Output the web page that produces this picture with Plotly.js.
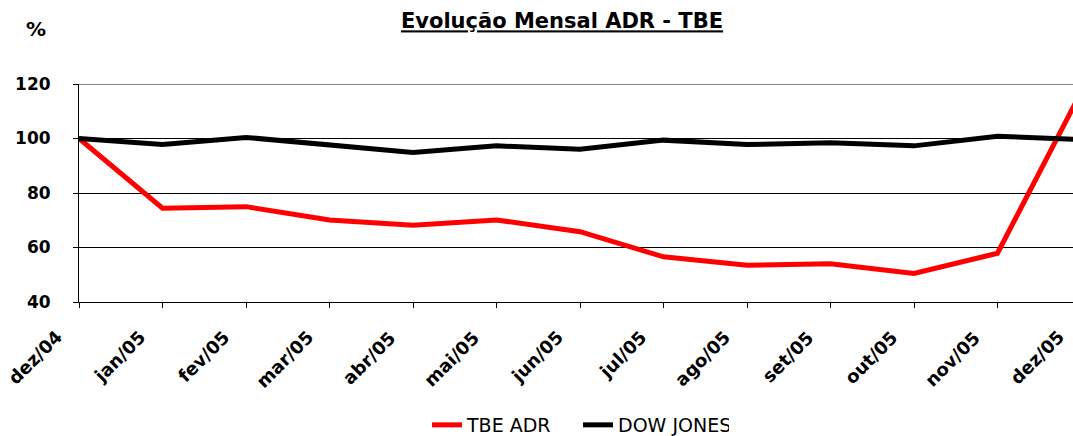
<!DOCTYPE html>
<html>
<head>
<meta charset="utf-8">
<script src="https://cdn.plot.ly/plotly-3.0.1.min.js"></script>
<style>
html,body{margin:0;padding:0;overflow:hidden;background:#fff;width:1073px;height:436px;}
#chart{width:1100px;height:436px;}
</style>
</head>
<body>
<div id="chart"></div>
<script>
const months = ["dez/04","jan/05","fev/05","mar/05","abr/05","mai/05","jun/05","jul/05","ago/05","set/05","out/05","nov/05","dez/05"];
const tbeAdr = [100, 74.4, 75.0, 70.1, 68.2, 70.1, 65.8, 56.6, 53.5, 54.0, 50.5, 57.9, 117];
const dowJones = [100, 97.8, 100.4, 97.8, 94.9, 97.3, 96.1, 99.4, 97.8, 98.4, 97.3, 100.8, 99.6];
const yTicks = [40, 60, 80, 100, 120];

const W = 1100, H = 436;
const L = 79, T = 84, B = 134, R = 19;
const plotW = W - L - R;
const plotH = H - T - B;

const traces = [
  {x: months, y: tbeAdr, name: "TBE ADR", type: "scatter", mode: "lines",
   line: {color: "#ff0000", width: 5}},
  {x: months, y: dowJones, name: "DOW JONES", type: "scatter", mode: "lines",
   line: {color: "#000000", width: 5}}
];

// month tick labels, rotated, placed under each category tick
const monthLabels = months.map(m => ({
  text: "<b>" + m + "</b>", xref: "x", x: m, yref: "paper", y: 0,
  xanchor: "right", yanchor: "top", xshift: -10, yshift: -22,
  textangle: -45, showarrow: false,
  font: {family: "DejaVu Sans, sans-serif", size: 18, color: "#000"}
}));

const layout = {
  width: W, height: H,
  margin: {l: L, r: R, t: T, b: B, pad: 0, autoexpand: false},
  paper_bgcolor: "#fff", plot_bgcolor: "#fff",
  font: {family: "DejaVu Sans, Verdana, sans-serif", color: "#000"},
  title: {
    text: "<b><u>Evolução Mensal ADR - TBE</u></b>",
    font: {family: "DejaVu Sans, sans-serif", size: 21, color: "#000"},
    xref: "container", x: 562 / W, xanchor: "center",
    yref: "container", y: 1 - 21 / H, yanchor: "middle"
  },
  showlegend: true,
  legend: {
    orientation: "h", xref: "paper", x: (578 - L) / plotW, xanchor: "center",
    yref: "paper", y: (T + plotH - 425) / plotH, yanchor: "middle",
    font: {family: "DejaVu Sans, sans-serif", size: 19, color: "#000"},
    bgcolor: "rgba(0,0,0,0)", itemwidth: 30, tracegroupgap: 0,
    entrywidth: 106
  },
  xaxis: {
    type: "category", categoryarray: months, range: [0, months.length - 1],
    automargin: false, showticklabels: false,
    showgrid: false, zeroline: false,
    showline: true, linecolor: "#000", linewidth: 1,
    ticks: "outside", ticklen: 5, tickcolor: "#000", tickwidth: 1
  },
  yaxis: {
    range: [40, 120], tickvals: yTicks, ticktext: yTicks.map(String),
    automargin: false,
    showgrid: true, gridcolor: "#000", gridwidth: 1, zeroline: false,
    showline: true, linecolor: "#000", linewidth: 1,
    ticks: "outside", ticklen: 5, tickcolor: "#000", tickwidth: 1,
    ticklabelstandoff: 19,
    tickfont: {family: "DejaVu Sans, sans-serif", size: 17, color: "#000", weight: "bold"}
  },
  shapes: [
    {type: "line", xref: "paper", x0: 0, x1: 1, yref: "y", y0: 120, y1: 120,
     line: {color: "#888888", width: 2}, layer: "below"}
  ],
  annotations: [
    {text: "<b>%</b>", xref: "paper", x: (36 - L) / plotW, xanchor: "center",
     yref: "paper", y: (T + plotH - 29) / plotH, yanchor: "middle", showarrow: false,
     font: {family: "DejaVu Sans, sans-serif", size: 20, color: "#000"}}
  ].concat(monthLabels)
};

Plotly.newPlot("chart", traces, layout, {displayModeBar: false, staticPlot: true});
</script>
</body>
</html>
